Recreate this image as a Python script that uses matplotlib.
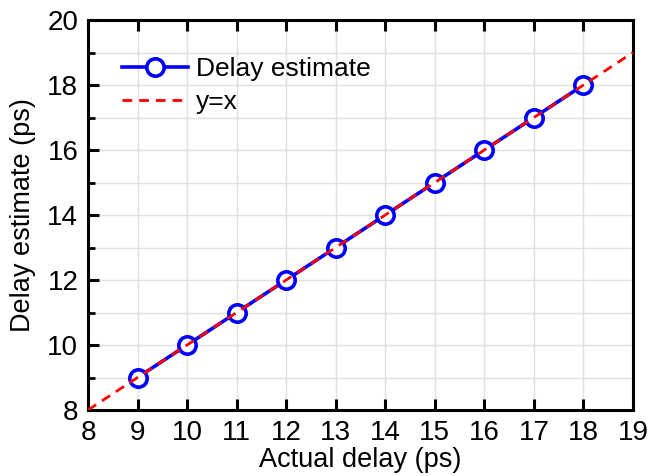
import matplotlib
matplotlib.use("Agg")
import matplotlib.pyplot as plt
from matplotlib.ticker import MultipleLocator

actual = [9, 10, 11, 12, 13, 14, 15, 16, 17, 18]
estimate = [9, 10, 11, 12, 13, 14, 15, 16, 17, 18]
ref_x = [8, 19]
ref_y = [8, 19]

plt.rcParams['font.family'] = ['Liberation Sans', 'DejaVu Sans']

fig = plt.figure(figsize=(6.49, 4.76), dpi=100)
ax = fig.add_axes([88/649, 1-410/476, (633-88)/649, (410-20)/476])

ax.plot(actual, estimate, color='#0000ff', lw=2.6, marker='o', ms=12.5,
        mfc='white', mec='#0000ff', mew=2.6, label='Delay estimate', zorder=3)
ax.plot(ref_x, ref_y, color='#ff0000', lw=2.0, ls=(0, (3.5, 2.5)), label='y=x', zorder=4)

ax.set_xlim(8, 19)
ax.set_ylim(8, 20)
ax.xaxis.set_major_locator(MultipleLocator(1))
ax.yaxis.set_major_locator(MultipleLocator(2))
ax.yaxis.set_minor_locator(MultipleLocator(1))
ax.grid(True, which='both', color='#e0e0e0', lw=1.0, zorder=0)
ax.set_axisbelow(True)
ax.tick_params(axis='both', which='major', direction='in', length=8, width=2.2,
               labelsize=20, top=True, right=False, pad=7)
ax.tick_params(axis='y', which='minor', direction='in', length=5, width=2, right=False)
for s in ax.spines.values():
    s.set_linewidth(2.2)

ax.set_xlabel('Actual delay (ps)', fontsize=19.5, labelpad=1)
ax.set_ylabel('Delay estimate (ps)', fontsize=19.5, labelpad=8)

leg = ax.legend(loc='upper left', bbox_to_anchor=(0.019, 0.966), frameon=False,
                fontsize=19, handlelength=2.5, labelspacing=0.35, handletextpad=0.3)

fig.savefig('out.png', dpi=100)
